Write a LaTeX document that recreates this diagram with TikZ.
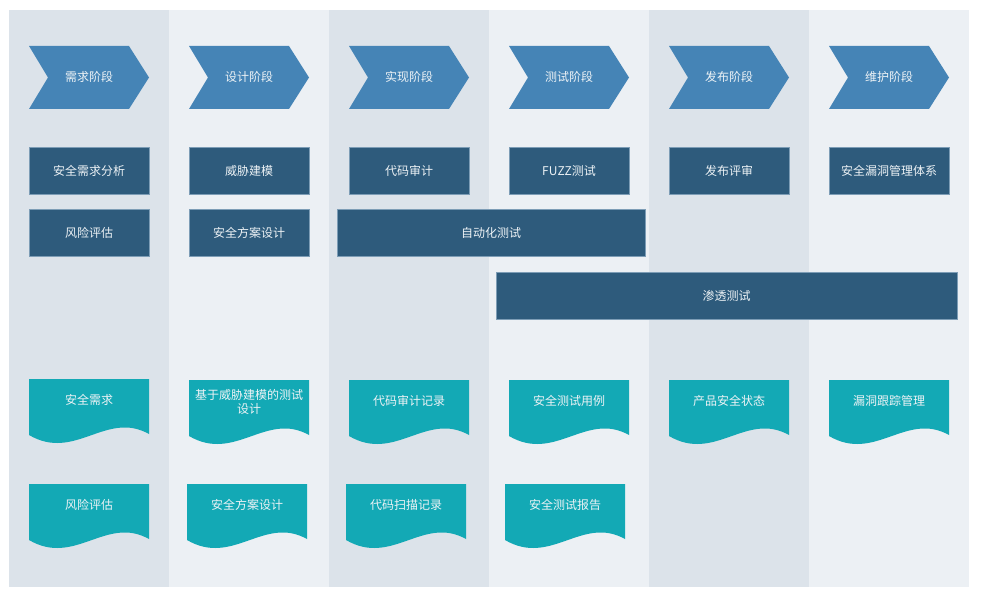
\documentclass[tikz,border=0pt]{standalone}
\usepackage{fontspec}
\newfontfamily\cjk{Noto Sans CJK SC}
\definecolor{laneA}{HTML}{DCE3EA}
\definecolor{laneB}{HTML}{ECF0F4}
\definecolor{chevcol}{HTML}{4584B6}
\definecolor{boxcol}{HTML}{2E5B7C}
\definecolor{boxline}{HTML}{7D9DB6}
\definecolor{doccol}{HTML}{13A9B5}
\definecolor{txtcol}{HTML}{EEF3F6}
\tikzset{
  lane/.style={fill=#1, draw=none},
  chev/.style={fill=chevcol, draw=none},
  taskbox/.style={fill=boxcol, draw=boxline, line width=0.6pt},
  lbl/.style={text=txtcol, font=\cjk\fontsize{12}{14}\selectfont, align=center, inner sep=0pt},
  docfill/.style={fill=doccol, draw=none},
}
% chevron: name, left x, text
\newcommand{\chevron}[3]{%
  \fill[chev] (#2,46) -- (#2+100,46) -- (#2+120,77.5) -- (#2+100,109) -- (#2,109) -- (#2+19,77.5) -- cycle;
  \node[lbl] (#1) at (#2+60,76.5) {#3};
}
% task box: name, x1, y1, x2, y2, text
\newcommand{\taskrect}[6]{%
  \draw[taskbox] (#2,#3) rectangle (#4,#5);
  \node[lbl] (#1) at ({(#2+#4)/2},{(#3+#5)/2}) {#6};
}
% document: name, left x, top y, text, text offset
\newcommand{\docshape}[5]{%
  \fill[docfill] (#2,#3) -- (#2+120,#3) -- (#2+120,#3+55)
    .. controls (#2+77,#3+31) and (#2+46,#3+83) .. (#2,#3+56) -- cycle;
  \node[lbl] (#1) at (#2+60,#3+#5) {#4};
}
\begin{document}
\begin{tikzpicture}[x=1pt,y=-1pt]
\useasboundingbox[fill=white] (0,0) rectangle (983,599);
% lanes
\fill[lane=laneA] (9,10) rectangle (169,587);
\fill[lane=laneB] (169,10) rectangle (329,587);
\fill[lane=laneA] (329,10) rectangle (489,587);
\fill[lane=laneB] (489,10) rectangle (649,587);
\fill[lane=laneA] (649,10) rectangle (809,587);
\fill[lane=laneB] (809,10) rectangle (969,587);
% phases
\chevron{p1}{29}{需求阶段}
\chevron{p2}{189}{设计阶段}
\chevron{p3}{349}{实现阶段}
\chevron{p4}{509}{测试阶段}
\chevron{p5}{669}{发布阶段}
\chevron{p6}{829}{维护阶段}
% activities
\taskrect{a1}{29}{147}{149}{194}{安全需求分析}
\taskrect{a2}{189}{147}{309}{194}{威胁建模}
\taskrect{a3}{349}{147}{469}{194}{代码审计}
\taskrect{a4}{509}{147}{629}{194}{FUZZ测试}
\taskrect{a5}{669}{147}{789}{194}{发布评审}
\taskrect{a6}{829}{147}{949}{194}{安全漏洞管理体系}
\taskrect{b1}{29}{209}{149}{256}{风险评估}
\taskrect{b2}{189}{209}{309}{256}{安全方案设计}
\taskrect{b3}{337}{209}{645}{256}{自动化测试}
\taskrect{c1}{496}{272}{957}{319}{渗透测试}
% documents
\docshape{d1}{29}{379}{安全需求}{21}
\docshape{d2}{189}{380}{基于威胁建模的测试\\设计}{22}
\docshape{d3}{349}{380}{代码审计记录}{21}
\docshape{d4}{509}{380}{安全测试用例}{21}
\docshape{d5}{669}{380}{产品安全状态}{21}
\docshape{d6}{829}{380}{漏洞跟踪管理}{21}
\docshape{e1}{29}{484}{风险评估}{21}
\docshape{e2}{187}{484}{安全方案设计}{21}
\docshape{e3}{346}{484}{代码扫描记录}{21}
\docshape{e4}{505}{484}{安全测试报告}{21}
\end{tikzpicture}
\end{document}
